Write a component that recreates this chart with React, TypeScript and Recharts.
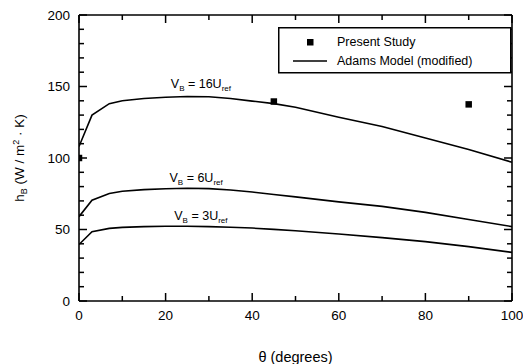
import React from "react";
import { ComposedChart, Line, Scatter, XAxis, YAxis, ZAxis, ReferenceDot, Label } from "recharts";

const FONT = "'Liberation Sans', Arial, Helvetica, sans-serif";

// model curves (Adams model, modified)
const theta = [0, 3, 7, 10, 15, 20, 25, 30, 35, 40, 45, 50, 60, 70, 80, 90, 100];
const h16 = [108, 130, 138, 140, 141.6, 142.5, 143, 142.8, 141.6, 139.8, 138, 135.5, 128.5, 122, 114, 106, 97];
const h6 = [59, 70.5, 75.2, 76.8, 77.9, 78.5, 78.8, 78.6, 77.6, 76.2, 74.5, 72.8, 69.3, 66.2, 62, 57, 52];
const h3 = [39.5, 48.5, 50.8, 51.5, 52, 52.3, 52.3, 52, 51.6, 51, 50.1, 49.1, 46.8, 44.3, 41.5, 38, 34];

// present study measurements
const studyTheta = [0, 45, 90];
const studyH = [100, 139.5, 137.5];

const xTicks = [0, 10, 20, 30, 40, 50, 60, 70, 80, 90, 100];
const yTicks = [0, 10, 20, 30, 40, 50, 60, 70, 80, 90, 100, 110, 120, 130, 140, 150, 160, 170, 180, 190, 200];

// curve labels
const curveLabels = [
  { x: 21.2, y: 149.3, n: "16" },
  { x: 20.9, y: 83.2, n: "6" },
  { x: 22, y: 56.6, n: "3" },
];

const toPts = (xs: number[], ys: number[]) => xs.map((x, i) => ({ x, y: ys[i] }));

// layout
const W = 523;
const H = 364;
const MARGIN = { top: 14, right: 10, bottom: 0, left: 0 };
const Y_AXIS_W = 79;
const X_AXIS_H = 63;
const PLOT_L = MARGIN.left + Y_AXIS_W;
const PLOT_R = W - MARGIN.right - 1;
const PLOT_T = MARGIN.top + 1;
const PLOT_B = H - MARGIN.bottom - X_AXIS_H;

const TM = 9; // gap between axis line and labels
const axisLine = { stroke: "#000", strokeWidth: 1.6 };

const AxisTick = (props: any) => {
  const side = props.side;
  const x = Number(props.x);
  const y = Number(props.y);
  const v = props.payload.value;
  if (side === "left" && v % 50 === 0) {
    return (
      <text x={x} y={y} dy="0.35em" textAnchor="end" fontSize={13.5} fill="#000" fontFamily={FONT}>
        {v}
      </text>
    );
  }
  if (side === "bottom" && v % 20 === 0) {
    return (
      <text x={x} y={y} dy="0.71em" textAnchor="middle" fontSize={13.5} fill="#000" fontFamily={FONT}>
        {v}
      </text>
    );
  }
  return <g />;
};

// inward tick marks on all four sides of the frame
const FrameTicks = () => {
  const sx = (v: number) => PLOT_L + ((PLOT_R - PLOT_L) * v) / 100;
  const sy = (v: number) => PLOT_B - ((PLOT_B - PLOT_T) * v) / 200;
  return (
    <svg style={{ position: "absolute", left: 0, top: 0, pointerEvents: "none" }} width={W} height={H}>
      {xTicks.map((v) => {
        const len = v % 20 === 0 ? 8 : 5;
        const x = sx(v);
        return (
          <g key={`x${v}`}>
            <line x1={x} x2={x} y1={PLOT_B} y2={PLOT_B - len} stroke="#000" strokeWidth={1.5} />
            <line x1={x} x2={x} y1={PLOT_T} y2={PLOT_T + len} stroke="#000" strokeWidth={1.5} />
          </g>
        );
      })}
      {yTicks.map((v) => {
        const len = v % 50 === 0 ? 8 : 5;
        const y = sy(v);
        return (
          <g key={`y${v}`}>
            <line x1={PLOT_L} x2={PLOT_L + len} y1={y} y2={y} stroke="#000" strokeWidth={1.5} />
            <line x1={PLOT_R} x2={PLOT_R - len} y1={y} y2={y} stroke="#000" strokeWidth={1.5} />
          </g>
        );
      })}
    </svg>
  );
};

const YTitle = (props: any) => {
  const vb = props.viewBox || { x: 0, y: PLOT_T, width: Y_AXIS_W, height: PLOT_B - PLOT_T };
  const cx = vb.x + 24;
  const cy = vb.y + vb.height / 2;
  return (
    <text
      x={cx}
      y={cy}
      transform={`rotate(-90 ${cx} ${cy})`}
      textAnchor="middle"
      fontSize={13.5}
      fill="#000"
      fontFamily={FONT}
    >
      h<tspan dy={3} fontSize={9}>B</tspan>
      <tspan dy={-3}>{" (W / m"}</tspan>
      <tspan dy={-5} fontSize={9}>2</tspan>
      <tspan dy={5}>{" \u00b7 K)"}</tspan>
    </text>
  );
};

const CurveLabel = (n: string) => (props: any) => {
  const vb = props.viewBox;
  const x = vb.x + (vb.width || 0) / 2;
  const y = vb.y + (vb.height || 0) / 2;
  return (
    <text x={x} y={y} fontSize={12.5} fill="#000" fontFamily={FONT}>
      V<tspan dy={3} fontSize={8}>B</tspan>
      <tspan dy={-3}>{"  =  " + n + "U"}</tspan>
      <tspan dy={3} fontSize={8}>ref</tspan>
    </text>
  );
};

const LegendBox = () => (
  <svg style={{ position: "absolute", left: 278, top: 27 }} width={234} height={47}>
    <rect x={0.75} y={0.75} width={232} height={45} fill="#fff" stroke="#000" strokeWidth={1.5} />
    <rect x={29} y={12} width={6.5} height={6.5} fill="#000" />
    <text x={59} y={15} dy="0.35em" fontSize={12.5} fill="#000" fontFamily={FONT}>
      Present Study
    </text>
    <line x1={15} x2={49} y1={34} y2={34} stroke="#000" strokeWidth={1.5} />
    <text x={59} y={34} dy="0.35em" fontSize={12.5} fill="#000" fontFamily={FONT}>
      Adams Model (modified)
    </text>
  </svg>
);

export default function App() {
  return (
    <div style={{ position: "absolute", left: 0, top: 0, width: W, height: H }}>
      <ComposedChart width={W} height={H} margin={MARGIN}>
        <XAxis
          xAxisId="b"
          type="number"
          dataKey="x"
          domain={[0, 100]}
          ticks={xTicks}
          interval={0}
          height={X_AXIS_H}
          tickLine={false}
          tickSize={0}
          tickMargin={TM}
          axisLine={axisLine}
          tick={(p: any) => <AxisTick {...p} side="bottom" />}
          allowDataOverflow
        >
          <Label value={"\u03b8 (degrees)"} position="insideBottom" offset={2} fontSize={14.5} fill="#000" fontFamily={FONT} />
        </XAxis>
        <XAxis
          xAxisId="t"
          orientation="top"
          type="number"
          dataKey="x"
          domain={[0, 100]}
          ticks={xTicks}
          interval={0}
          height={1}
          tickLine={false}
          tick={false}
          axisLine={axisLine}
          allowDataOverflow
        />
        <YAxis
          yAxisId="l"
          type="number"
          dataKey="y"
          domain={[0, 200]}
          ticks={yTicks}
          interval={0}
          width={Y_AXIS_W}
          tickLine={false}
          tickSize={0}
          tickMargin={TM}
          axisLine={axisLine}
          tick={(p: any) => <AxisTick {...p} side="left" />}
          allowDataOverflow
        >
          <Label content={<YTitle />} />
        </YAxis>
        <YAxis
          yAxisId="r"
          orientation="right"
          type="number"
          dataKey="y"
          domain={[0, 200]}
          ticks={yTicks}
          interval={0}
          width={1}
          tickLine={false}
          tick={false}
          axisLine={axisLine}
          allowDataOverflow
        />
        <ZAxis range={[42, 42]} />
        <Line xAxisId="b" yAxisId="l" data={toPts(theta, h16)} dataKey="y" type="linear" stroke="#000" strokeWidth={1.6} dot={false} isAnimationActive={false} />
        <Line xAxisId="b" yAxisId="l" data={toPts(theta, h6)} dataKey="y" type="linear" stroke="#000" strokeWidth={1.6} dot={false} isAnimationActive={false} />
        <Line xAxisId="b" yAxisId="l" data={toPts(theta, h3)} dataKey="y" type="linear" stroke="#000" strokeWidth={1.6} dot={false} isAnimationActive={false} />
        <Scatter xAxisId="b" yAxisId="l" data={toPts(studyTheta, studyH)} shape="square" fill="#000" isAnimationActive={false} />
        {curveLabels.map((c) => (
          <ReferenceDot
            key={c.n}
            xAxisId="b"
            yAxisId="l"
            x={c.x}
            y={c.y}
            r={0}
            fill="none"
            stroke="none"
            ifOverflow="visible"
            label={CurveLabel(c.n)}
          />
        ))}
      </ComposedChart>
      <FrameTicks />
      <LegendBox />
    </div>
  );
}
